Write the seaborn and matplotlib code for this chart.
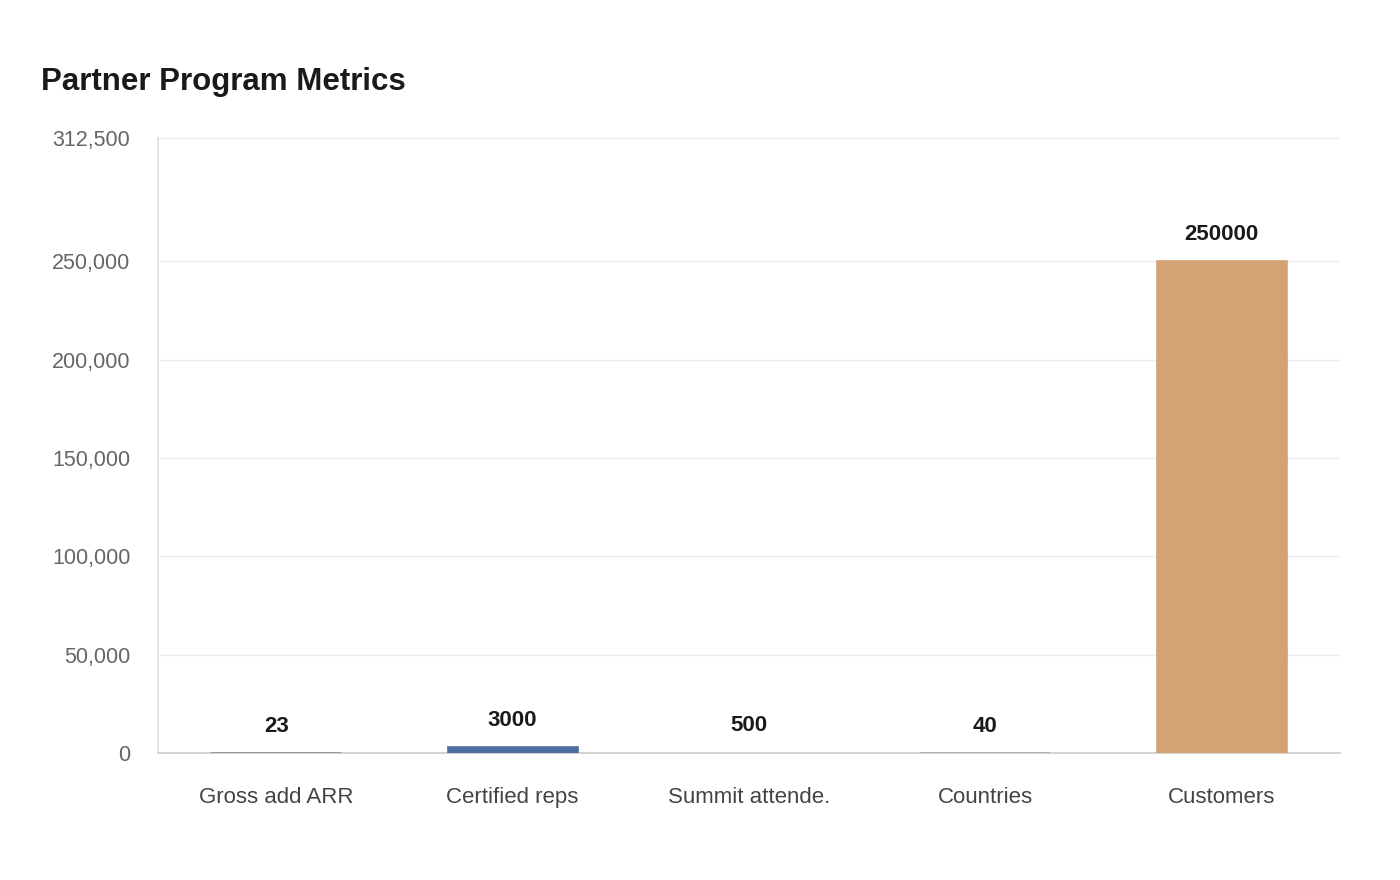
import numpy as np
import pandas as pd
import matplotlib
matplotlib.use("Agg")
import matplotlib.pyplot as plt
import seaborn as sns

# === Data ===
categories = ["Gross add ARR", "Certified reps", "Summit attende.", "Countries", "Customers"]
values = [23, 3000, 500, 40, 250000]
bar_colors = ["#8c8c8c", "#4c6fa0", "#f7f7f7", "#a7aeb3", "#d4a373"]
y_ticks = [0, 50000, 100000, 150000, 200000, 250000, 312500]

df = pd.DataFrame({"metric": categories, "value": values})

sns.set_theme(style="white")
plt.rcParams["font.family"] = ["Liberation Sans", "DejaVu Sans"]

fig, ax = plt.subplots(figsize=(14, 8.8), dpi=100)
fig.subplots_adjust(left=0.113, right=0.957, top=0.843, bottom=0.144)

sns.barplot(data=df, x="metric", y="value", hue="metric", palette=bar_colors,
            legend=False, width=0.55, saturation=1, ax=ax, zorder=3)

# thin bars still get a visible stroke, like the original
for patch, col in zip(ax.patches, bar_colors):
    if col != "#f7f7f7":
        patch.set_edgecolor(col)
        patch.set_linewidth(1.2)
    else:
        # nearly invisible bar sits under the axis line
        patch.set_linewidth(0)
        patch.set_zorder(1)

ax.set_ylim(0, 312500)
ax.set_yticks(y_ticks)
ax.set_yticklabels([f"{t:,}" for t in y_ticks])
ax.set_xlim(-0.5, len(categories) - 0.5)

ax.grid(axis="y", color="#ececec", linewidth=1, zorder=0)
for side in ["top", "right"]:
    ax.spines[side].set_visible(False)
ax.spines["left"].set_color("#e0e0e0")
ax.spines["bottom"].set_color("#cccccc")
ax.spines["bottom"].set_linewidth(1.2)

ax.tick_params(axis="y", labelsize=15.5, colors="#666666", length=11, pad=9, color="#e8e8e8")
ax.tick_params(axis="x", labelsize=16, colors="#444444", length=0, pad=24)
ax.set_xlabel("")
ax.set_ylabel("")

for i, v in enumerate(values):
    ax.annotate(str(v), (i, v), xytext=(0, 12), textcoords="offset points",
                ha="center", va="bottom", fontsize=16, fontweight="bold", color="#1a1a1a")

fig.text(0.029, 0.907, "Partner Program Metrics", fontsize=22.5, fontweight="bold",
         color="#1a1a1a", ha="left", va="center")

fig.savefig("out.png", dpi=100, facecolor="white")
